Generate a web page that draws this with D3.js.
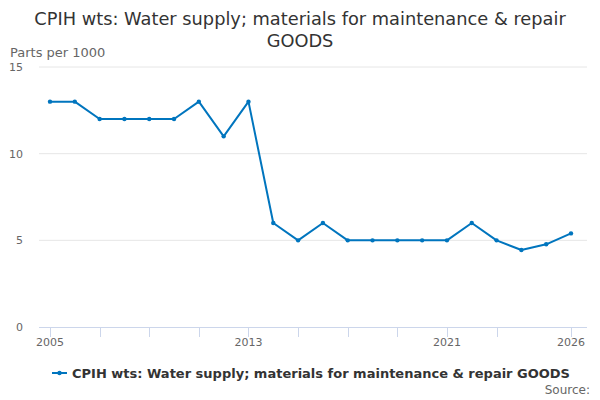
<!DOCTYPE html>
<html><head><meta charset="utf-8">
<script src="https://cdn.jsdelivr.net/npm/d3@7"></script>
<style>body{margin:0;background:#fff;font-family:"DejaVu Sans",sans-serif;}</style>
</head><body><svg id="c" width="600" height="400"></svg>
<script>
const years = [2005,2006,2007,2008,2009,2010,2011,2012,2013,2014,2015,2016,2017,2018,2019,2020,2021,2022,2023,2024,2025,2026];
const values = [13,13,12,12,12,12,13,11,13,6,5,6,5,5,5,5,5,6,5,4.44,4.77,5.4];
const yTicks = [0,5,10,15];
const xTickLabels = [2005,2013,2021,2026];
const xTickMarks = [2005,2007,2009,2011,2013,2015,2017,2019,2021,2023,2026];
const seriesName = "CPIH wts: Water supply; materials for maintenance & repair GOODS";
const titleLines = ["CPIH wts: Water supply; materials for maintenance & repair","GOODS"];

const svg = d3.select("#c");
const color = "#0075be";
const x = d3.scaleLinear().domain([2005,2026]).range([50,571]);
const y = d3.scaleLinear().domain([0,15]).range([327,67]);

svg.selectAll("text.title").data(titleLines).join("text")
  .attr("x",300).attr("y",(d,i)=>25+i*22).attr("text-anchor","middle")
  .attr("font-size",17.8).attr("fill","#333").text(d=>d);

svg.append("text").attr("x",10).attr("y",57).attr("font-size",13).attr("fill","#666").text("Parts per 1000");

// grid
svg.selectAll("line.grid").data(yTicks.filter(d=>d>0)).join("line")
  .attr("x1",39).attr("x2",587).attr("y1",d=>y(d)).attr("y2",d=>y(d))
  .attr("stroke","#e6e6e6").attr("stroke-width",1);
svg.selectAll("text.yt").data(yTicks).join("text")
  .attr("x",23).attr("y",d=>y(d)+4).attr("text-anchor","end")
  .attr("font-size",11).attr("fill","#666").text(d=>d);

// x axis
svg.append("line").attr("x1",39).attr("x2",587).attr("y1",327.5).attr("y2",327.5).attr("stroke","#ccd6eb");
svg.selectAll("line.xt").data(xTickMarks).join("line")
  .attr("x1",d=>Math.round(x(d))+0.5).attr("x2",d=>Math.round(x(d))+0.5).attr("y1",327).attr("y2",337)
  .attr("stroke","#ccd6eb");
svg.selectAll("text.xl").data(xTickLabels).join("text")
  .attr("x",d=>x(d)).attr("y",346).attr("text-anchor","middle")
  .attr("font-size",11).attr("fill","#666").text(d=>d);

const line = d3.line().x((d,i)=>x(years[i])).y(d=>y(d));
svg.append("path").datum(values).attr("d",line).attr("fill","none")
  .attr("stroke",color).attr("stroke-width",2).attr("stroke-linejoin","round");
svg.selectAll("circle.pt").data(values).join("circle")
  .attr("cx",(d,i)=>x(years[i])).attr("cy",d=>y(d)).attr("r",2.2).attr("fill",color);

// legend
const lg = svg.append("g");
lg.append("line").attr("x1",52).attr("x2",67).attr("y1",373).attr("y2",373).attr("stroke",color).attr("stroke-width",2);
lg.append("circle").attr("cx",59.5).attr("cy",373).attr("r",2.2).attr("fill",color);
lg.append("text").attr("x",72).attr("y",378).attr("font-size",13).attr("font-weight","bold").attr("fill","#333").text(seriesName);

svg.append("text").attr("x",590).attr("y",394).attr("text-anchor","end").attr("font-size",12).attr("fill","#666").text("Source:");
</script></body></html>
